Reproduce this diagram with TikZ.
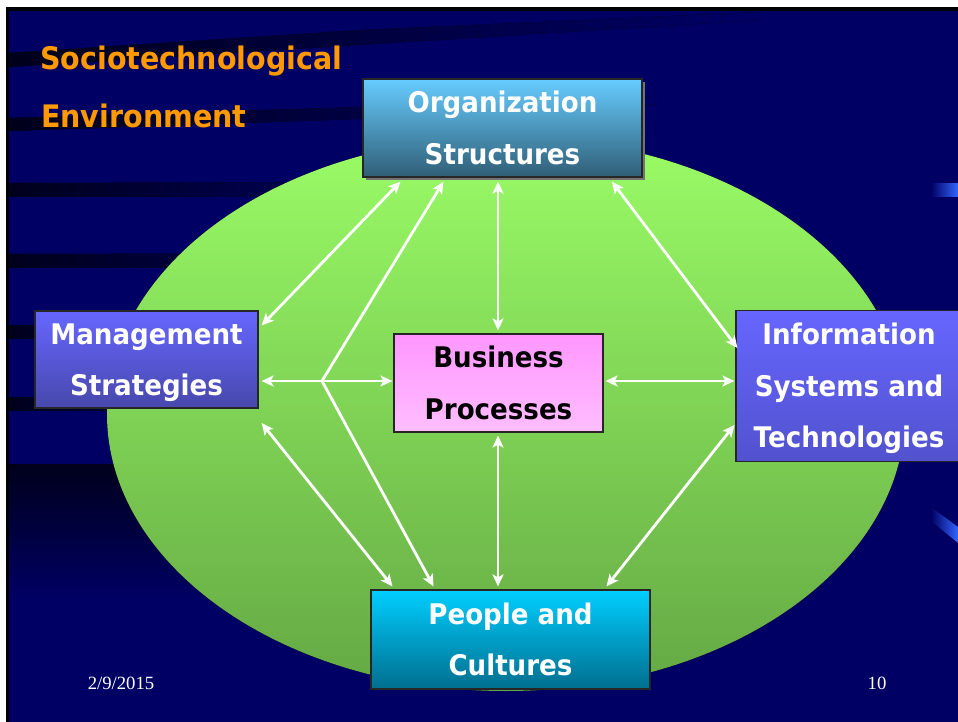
\documentclass[tikz,border=0pt]{standalone}
\usepackage{fontspec}
\setmainfont{DejaVu Sans}[FakeStretch=0.92]
\newfontfamily\datefont{Liberation Serif}
\usetikzlibrary{arrows.meta,calc,shadows}
\definecolor{bg}{RGB}{0,0,100}
\definecolor{band}{RGB}{0,0,28}
\definecolor{titleor}{RGB}{255,153,0}
\definecolor{ellTop}{RGB}{154,252,102}
\definecolor{ellBot}{RGB}{100,168,68}
\definecolor{orgTop}{RGB}{102,204,255}
\definecolor{orgBot}{RGB}{48,94,118}
\definecolor{mgTop}{RGB}{102,102,255}
\definecolor{mgBot}{RGB}{72,72,172}
\definecolor{infBot}{RGB}{82,82,206}
\definecolor{busTop}{RGB}{255,150,255}
\definecolor{busBot}{RGB}{255,190,255}
\definecolor{pplTop}{RGB}{0,206,255}
\definecolor{pplBot}{RGB}{0,110,142}
\definecolor{deco}{RGB}{51,102,255}
\tikzset{
  box/.style={rectangle, draw=black!85, line width=1.2pt, inner sep=0pt,
    align=center, text=white, text height=72.2pt, text depth=0pt,
    font=\fontsize{28.4}{51.5}\selectfont\bfseries},
  threeline/.style={text height=123.7pt},
  tip/.style={Stealth[length=12pt,width=11pt,inset=3pt]},
  conn/.style={draw=white, line width=2.8pt, {Stealth[length=12pt,width=11pt,inset=3pt]}-{Stealth[length=12pt,width=11pt,inset=3pt]}},
  spoke/.style={draw=white, line width=2.8pt, line join=round,
    -{Stealth[length=12pt,width=11pt,inset=3pt]}},
  titletext/.style={anchor=base west, text=titleor, inner sep=0pt,
    font=\fontsize{31}{31}\selectfont\bfseries},
  foot/.style={text=white, inner sep=0pt, font=\datefont\fontsize{18.7}{18.7}\selectfont}
}
\begin{document}
\begin{tikzpicture}[x=1pt,y=-1pt]
\useasboundingbox (0,0) rectangle (958,722);
\clip (0,0) rectangle (958,722);
% slide background
\fill[white] (0,0) rectangle (958,722);
\fill[black] (6,7) rectangle (958,722);
\fill[bg] (9,11) rectangle (958,722);
% dark bands on the left
\fill[left color=band, right color=bg] (9,53) -- (360,30) -- (760,12) -- (760,20) -- (360,45) -- (9,67) -- cycle;
\fill[left color=band, right color=bg] (9,118) -- (360,107) -- (660,96) -- (660,104) -- (360,119) -- (9,131) -- cycle;
\fill[left color=band, right color=bg] (9,183) -- (420,182) -- (420,196) -- (9,197) -- cycle;
\fill[left color=band, right color=bg] (9,254) -- (420,253) -- (420,267) -- (9,268) -- cycle;
\fill[left color=band, right color=bg] (9,325) -- (420,325) -- (420,338) -- (9,338) -- cycle;
\fill[left color=band, right color=bg] (9,397) -- (420,397) -- (420,410) -- (9,410) -- cycle;
\fill[top color=band, bottom color=bg] (9,464) rectangle (520,600);
% right decorations
\fill[left color=bg, right color=deco] (931,184) rectangle (958,197);
\fill[left color=bg, right color=deco] (931,507) -- (958,527) -- (958,543) -- (931,521) -- cycle;
% environment ellipse
\fill[top color=ellTop, bottom color=ellBot] (506,414) ellipse [x radius=399pt, y radius=277pt];
% title
\node[titletext] (t1) at (40,70) {Sociotechnological};
\node[titletext] (t2) at (41,128) {Environment};
% boxes
\node[box, minimum width=279pt, minimum height=98pt, top color=orgTop, bottom color=orgBot,
  drop shadow={shadow xshift=3pt, shadow yshift=-3pt, fill=black!55, opacity=1}] (org) at (502.5,128) {Organization\\Structures};
\node[box, minimum width=223pt, minimum height=97pt, top color=mgTop, bottom color=mgBot] (mgmt) at (146.5,359.5) {Management\\Strategies};
\node[box, threeline, minimum width=226pt, minimum height=151pt, top color=mgTop, bottom color=infBot] (info) at (849,386) {Information\\Systems and\\Technologies};
\node[box, text=black, minimum width=209pt, minimum height=98pt, top color=busTop, bottom color=busBot] (bus) at (498.5,383) {Business\\Processes};
\node[box, minimum width=279pt, minimum height=99pt, top color=pplTop, bottom color=pplBot] (ppl) at (510.5,639.5) {People and\\Cultures};
% connectors
\coordinate (hub) at (322,381);
\draw[conn] ($(org.south)+(-102,4)$) -- ($(mgmt.east)+(3,-34)$);
\draw[spoke] (hub) -- ($(org.south)+(-59,4)$);
\draw[spoke] (hub) -- ($(mgmt.east)+(3,21.5)$);
\draw[spoke] (hub) -- ($(bus.west)+(-1,-2)$);
\draw[spoke] (hub) -- ($(ppl.north)+(-77,-3)$);
\draw[conn] ($(org.south)+(-4.5,4)$) -- ($(bus.north)+(-0.5,-3)$);
\draw[conn] ($(org.south)+(109.5,4)$) -- ($(info.west)+(2,-38)$);
\draw[conn] ($(bus.east)+(2,-2)$) -- ($(info.west)+(-1,-5)$);
\draw[conn] ($(bus.south)+(-0.5,3)$) -- ($(ppl.north)+(-12.5,-3)$);
\draw[conn] ($(mgmt.east)+(3,63.5)$) -- ($(ppl.north)+(-118,-3)$);
\draw[conn] ($(info.west)+(-1,39)$) -- ($(ppl.north)+(96,-3)$);
% footer
\node[foot] (date) at (121,683) {2/9/2015};
\node[foot] (page) at (877,683) {10};
\end{tikzpicture}
\end{document}
